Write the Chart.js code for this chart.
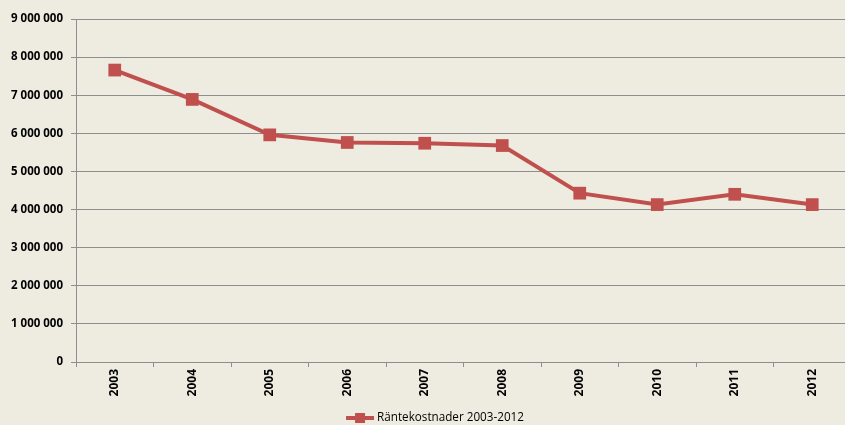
<!DOCTYPE html>
<html>
<head>
<meta charset="utf-8">
<script src="https://cdn.jsdelivr.net/npm/chart.js@4/dist/chart.umd.min.js"></script>
<style>
  html, body { margin: 0; padding: 0; background: #EEECE1; overflow: hidden; }
  canvas { display: block; }
</style>
</head>
<body>
<canvas id="chart" width="860" height="425"></canvas>
<script>
// Chart data
const years = ['2003', '2004', '2005', '2006', '2007', '2008', '2009', '2010', '2011', '2012'];
const costs = [7660000, 6890000, 5960000, 5760000, 5740000, 5680000, 4430000, 4130000, 4400000, 4130000];
const seriesLabel = 'Räntekostnader 2003-2012';

const lineColor = '#C0504D';
const gridColor = '#8E8E8E';

// spaces as thousands separator: 9 000 000
function formatNumber(v) {
    return String(v).replace(/\B(?=(\d{3})+(?!\d))/g, ' ');
}

// legend at the bottom: a line with a square marker, then the series name
const bottomLegend = {
    id: 'bottomLegend',
    afterDraw(chart) {
        const ctx = chart.ctx;
        const label = chart.data.datasets[0].label;
        ctx.save();
        ctx.font = '11.7px "Open Sans"';
        const textW = ctx.measureText(label).width;
        const lineW = 28;
        const total = lineW + 3 + textW;
        const left = chart.width / 2 + 5 - total / 2;
        const y = chart.height - 7;
        ctx.strokeStyle = lineColor;
        ctx.lineWidth = 4;
        ctx.beginPath();
        ctx.moveTo(left, y);
        ctx.lineTo(left + lineW, y);
        ctx.stroke();
        ctx.fillStyle = lineColor;
        ctx.fillRect(left + lineW / 2 - 5, y - 5, 10, 10);
        ctx.fillStyle = '#000';
        ctx.textBaseline = 'middle';
        ctx.fillText(label, left + lineW + 3, y);
        ctx.restore();
    }
};

const ctx = document.getElementById('chart').getContext('2d');
const chart = new Chart(ctx, {
    type: 'line',
    data: {
        labels: years,
        datasets: [{
            label: seriesLabel,
            data: costs,
            borderColor: lineColor,
            backgroundColor: lineColor,
            borderWidth: 4,
            pointStyle: 'rect',
            pointRadius: 9,
            pointBorderWidth: 0,
            pointBackgroundColor: lineColor,
            tension: 0,
            fill: false
        }]
    },
    options: {
        responsive: false,
        animation: false,
        layout: { padding: { top: 19, left: 0, right: 0, bottom: 0 } },
        scales: {
            x: {
                offset: true,
                grid: { display: true, drawOnChartArea: false, drawTicks: true, tickLength: 5, color: gridColor, offset: true },
                border: { display: true, color: gridColor, width: 1 },
                ticks: {
                    minRotation: 90, maxRotation: 90, padding: 2,
                    color: '#000',
                    font: { family: 'Open Sans', size: 12, weight: 'bold' }
                },
                afterFit(scale) { scale.height = 63; }
            },
            y: {
                min: 0, max: 9000000,
                ticks: {
                    stepSize: 1000000, padding: 8,
                    color: '#000',
                    font: { family: 'Open Sans', size: 11.5, weight: 'bold' },
                    callback: v => formatNumber(v)
                },
                grid: { color: gridColor, lineWidth: 1, tickLength: 5 },
                border: { display: true, color: gridColor, width: 1 },
                afterFit(scale) { scale.width = 76; }
            }
        },
        plugins: {
            tooltip: { enabled: false },
            legend: { display: false }
        }
    },
    plugins: [bottomLegend]
});
</script>
</body>
</html>
